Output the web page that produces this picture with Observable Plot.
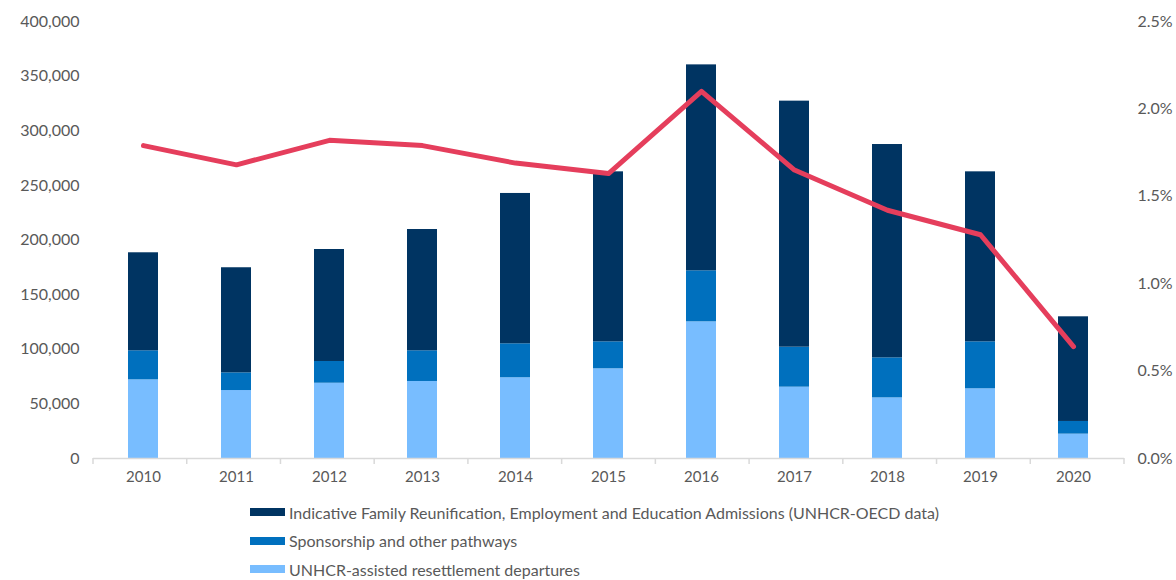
<!DOCTYPE html>
<html><head><meta charset="utf-8">
<script src="https://cdn.jsdelivr.net/npm/d3@7"></script>
<script src="https://cdn.jsdelivr.net/npm/@observablehq/plot@0.6"></script>
<style>
body{margin:0;background:#fff;font-family:Lato,"Open Sans",sans-serif;}
#chart{position:relative;width:1176px;height:580px;overflow:hidden;}
#chart svg{display:block;}
.legend{position:absolute;left:250px;top:498px;font-size:16px;color:#595959;}
.legend .row{display:flex;align-items:center;height:28.5px;white-space:nowrap;}
.legend .sw{width:35px;height:8px;margin-right:4px;flex:none;}
</style></head><body><div id="chart"></div>
<script>
const years = ["2010","2011","2012","2013","2014","2015","2016","2017","2018","2019","2020"];
const resettlement = [72000, 62200, 68900, 70500, 73900, 82100, 125100, 65300, 55500, 63800, 22300];
const sponsorship = [26600, 16200, 19900, 28100, 31100, 24700, 46700, 36600, 36600, 43000, 11600];
const familyEmployment = [89700, 96200, 102500, 111000, 137600, 155600, 188500, 225200, 195300, 155600, 95800];
const sharePct = [1.79, 1.68, 1.82, 1.79, 1.69, 1.63, 2.10, 1.65, 1.42, 1.28, 0.64];
const seriesNames = [
  "UNHCR-assisted resettlement departures",
  "Sponsorship and other pathways",
  "Indicative Family Reunification, Employment and Education Admissions (UNHCR-OECD data)"
];
const seriesColors = ["#78BDFF", "#0070BE", "#003462"];
const leftTicks = [0, 50000, 100000, 150000, 200000, 250000, 300000, 350000, 400000];
const rightTicksPct = [0, 0.5, 1.0, 1.5, 2.0, 2.5];
const yMax = 400000, pctMax = 2.5;

const stacked = [];
years.forEach((yr, i) => {
  stacked.push({year: yr, series: seriesNames[0], value: resettlement[i]});
  stacked.push({year: yr, series: seriesNames[1], value: sponsorship[i]});
  stacked.push({year: yr, series: seriesNames[2], value: familyEmployment[i]});
});
const lineData = years.map((yr, i) => ({year: yr, pct: sharePct[i]}));

const boundaryTicks = (index, scales, values, dims) => {
  const {width, marginLeft, marginRight} = dims;
  const n = years.length, step = (width - marginLeft - marginRight) / n;
  const y0 = scales.y(0);
  const g = d3.create("svg:g").attr("stroke", "#d9d9d9").attr("stroke-width", 1.5);
  g.selectAll("line").data(d3.range(n + 1)).join("line")
    .attr("x1", i => marginLeft + i * step).attr("x2", i => marginLeft + i * step)
    .attr("y1", y0).attr("y2", y0 + 6);
  return g.node();
};

const plot = Plot.plot({
  width: 1176, height: 480,
  marginTop: 21, marginBottom: 22, marginLeft: 93, marginRight: 52,
  style: {fontFamily: "Lato, 'Open Sans', sans-serif", fontSize: "15px", color: "#595959", background: "#fff", overflow: "visible"},
  x: {domain: years, paddingInner: 0.675, paddingOuter: 0.3375, label: null},
  y: {domain: [0, yMax], label: null},
  color: {domain: seriesNames, range: seriesColors},
  marks: [
    Plot.barY(stacked, {x: "year", y: "value", fill: "series"}),
    Plot.ruleY([0], {stroke: "#d9d9d9", strokeWidth: 1.5}),
    boundaryTicks,
    Plot.lineY(lineData, {x: "year", y: d => d.pct / pctMax * yMax, stroke: "#E53E5C", strokeWidth: 5, strokeLinecap: "round", strokeLinejoin: "round"}),
    Plot.axisY({anchor: "left", ticks: leftTicks, tickFormat: d3.format(","), tickSize: 0, tickPadding: 14, label: null, fontSize: 16}),
    Plot.axisY({anchor: "right", ticks: rightTicksPct.map(p => p / pctMax * yMax), tickFormat: d => (d / yMax * pctMax).toFixed(1) + "%", tickSize: 0, tickPadding: 13, label: null, fontSize: 16}),
    Plot.axisX({tickSize: 0, tickPadding: 13, label: null, fontSize: 15})
  ]
});
const chart = document.getElementById("chart");
chart.appendChild(plot);

const legend = document.createElement("div");
legend.className = "legend";
[2, 1, 0].forEach(i => {
  const row = document.createElement("div");
  row.className = "row";
  const sw = document.createElement("span");
  sw.className = "sw";
  sw.style.background = seriesColors[i];
  const t = document.createElement("span");
  t.textContent = seriesNames[i];
  row.appendChild(sw); row.appendChild(t);
  legend.appendChild(row);
});
chart.appendChild(legend);
</script>
</body></html>
